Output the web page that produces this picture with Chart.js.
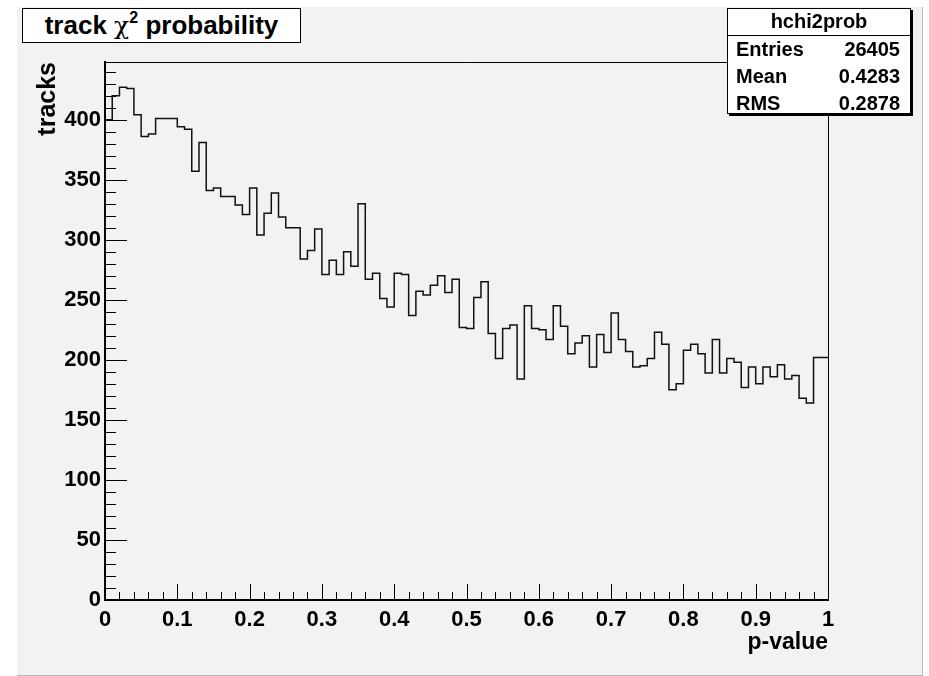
<!DOCTYPE html>
<html>
<head>
<meta charset="utf-8">
<script src="https://cdn.jsdelivr.net/npm/chart.js@4/dist/chart.umd.min.js"></script>
<style>
  html, body { margin: 0; padding: 0; background: #ffffff; }
  #wrap { position: relative; width: 929px; height: 676px; overflow: hidden; font-family: "Liberation Sans", Arial, Helvetica, sans-serif; }
  #pad { position: absolute; left: 17px; top: 7px; width: 905px; height: 668px; background: #f2f2f2; border-right: 1px solid #b8b8b8; border-bottom: 1px solid #b8b8b8; }
  #c { position: absolute; left: 0; top: 0; }
  #title { position: absolute; left: 22px; top: 8px; width: 279px; height: 35px; background: #fff; border: 1px solid #000; box-sizing: border-box;
           font-weight: bold; font-size: 26px; line-height: 33px; text-align: center; white-space: nowrap; color: #000; }
  #title .chi { font-family: "DejaVu Serif", "Liberation Serif", serif; font-weight: normal; font-style: normal; font-size: 25px; }
  #title sup { font-size: 16px; vertical-align: 0; position: relative; top: -11px; }
  #stats { position: absolute; left: 727px; top: 8px; width: 184px; height: 106px; background: #fff; border: 1px solid #000; box-sizing: border-box;
           box-shadow: 2px 2px 0 #000; color: #000; font-weight: bold; font-size: 20px; }
  #stats .hdr { position: absolute; left: 0; right: 0; top: 26px; border-top: 1px solid #000; }
  #stats .t { position: absolute; line-height: 20px; white-space: nowrap; }
</style>
</head>
<body>
<div id="wrap">
  <div id="pad"></div>
  <canvas id="c" width="929" height="676"></canvas>
  <div id="title"></div>
  <div id="stats"></div>
</div>
<script>
// ---- data (100 bins over [0,1]) ----
const histName = 'hchi2prob';
const binLowEdge = 0;
const binHighEdge = 1;
const histCounts = [
  280, 400, 420, 427, 426, 404, 386, 388, 401, 401,
  401, 394, 392, 357, 381, 341, 343, 336, 336, 329,
  321, 343, 304, 322, 339, 319, 310, 310, 284, 291,
  309, 271, 283, 271, 290, 278, 330, 267, 272, 251,
  244, 272, 271, 237, 257, 254, 262, 270, 256, 267,
  227, 226, 252, 265, 222, 201, 226, 229, 184, 245,
  226, 225, 217, 245, 228, 205, 214, 220, 194, 221,
  206, 239, 217, 207, 194, 195, 201, 223, 213, 175,
  180, 208, 213, 205, 189, 217, 189, 201, 198, 177,
  194, 180, 194, 186, 196, 184, 187, 168, 164, 202
];
const xTickLabels = ['0', '0.1', '0.2', '0.3', '0.4', '0.5', '0.6', '0.7', '0.8', '0.9', '1'];
const yTickLabels = ['0', '50', '100', '150', '200', '250', '300', '350', '400'];
const statsLabels = ['Entries', 'Mean', 'RMS'];
const statsValues = ['26405', '0.4283', '0.2878'];
const xTitle = 'p-value';
const yTitle = 'tracks';

// ---- build histogram outline points (bin edges) ----
const nBins = histCounts.length;
const binW = (binHighEdge - binLowEdge) / nBins;
const histPoints = histCounts.map((v, i) => ({ x: binLowEdge + i * binW, y: v }));
histPoints.push({ x: binHighEdge, y: histCounts[nBins - 1] });

// ---- HTML title and stats box (real text) ----
document.getElementById('title').innerHTML = 'track <span class="chi">\u03C7</span><sup>2</sup> probability';
(function () {
  const s = document.getElementById('stats');
  let h = '<div class="t" style="left:0;right:0;text-align:center;top:2px;font-weight:bold;">' + histName + '</div><div class="hdr"></div>';
  const tops = [30, 57, 84];
  statsLabels.forEach((l, i) => {
    h += '<div class="t" style="left:8px;top:' + tops[i] + 'px;">' + l + '</div>';
    h += '<div class="t" style="right:10px;top:' + tops[i] + 'px;">' + statsValues[i] + '</div>';
  });
  s.innerHTML = h;
})();

const FONT = '"Liberation Sans", Arial, Helvetica, sans-serif';
const labelFor = (list, v) => {
  const l = list.find(s => Math.abs(Number(s) - v) < 1e-6);
  return l === undefined ? '' : l;
};

// inward ROOT-style tick marks and frame, positioned through the chart's scales
const rootFrame = {
  id: 'rootFrame',
  afterDraw(chart) {
    const { ctx, chartArea: a, scales: { x, y } } = chart;
    ctx.save();
    ctx.strokeStyle = '#000';
    ctx.lineWidth = 1;
    ctx.beginPath();
    ctx.moveTo(a.left, a.top + 0.5); ctx.lineTo(a.right + 0.5, a.top + 0.5);
    ctx.moveTo(a.right + 0.5, a.top); ctx.lineTo(a.right + 0.5, a.bottom);
    // y ticks: major every 50, minor every 10
    for (let k = 0; k * 10 <= y.max; k++) {
      const v = k * 10;
      const p = Math.round(y.getPixelForValue(v)) + 0.5;
      const len = (v % 50 === 0) ? 22 : 11;
      ctx.moveTo(a.left, p); ctx.lineTo(a.left + len, p);
    }
    // x ticks: major every 0.1, minor every 0.02
    for (let k = 0; k <= 50; k++) {
      const v = k * 0.02;
      const p = Math.round(x.getPixelForValue(v)) + 0.5;
      const len = (k % 5 === 0) ? 16 : 8;
      ctx.moveTo(p, a.bottom); ctx.lineTo(p, a.bottom - len);
    }
    ctx.stroke();
    ctx.restore();
  }
};

new Chart(document.getElementById('c'), {
  type: 'line',
  data: {
    datasets: [{
      data: histPoints,
      stepped: 'after',
      borderColor: '#111',
      borderWidth: 1.5,
      pointRadius: 0,
      fill: false,
      tension: 0
    }]
  },
  options: {
    responsive: false,
    animation: false,
    devicePixelRatio: 1,
    layout: { padding: { top: 62, right: 101, left: 0, bottom: 0 } },
    plugins: { legend: { display: false }, tooltip: { enabled: false } },
    scales: {
      x: {
        type: 'linear',
        min: 0, max: 1,
        grid: { display: false, drawTicks: false },
        border: { display: true, color: '#000', width: 2 },
        ticks: {
          stepSize: 0.1,
          padding: 7,
          color: '#000',
          maxRotation: 0,
          autoSkip: false,
          font: { family: FONT, size: 22, weight: 'bold' },
          callback: (v) => labelFor(xTickLabels, v)
        },
        title: {
          display: true, text: xTitle, align: 'end', color: '#000',
          font: { family: FONT, size: 23, weight: 'bold' },
          padding: { top: 0, bottom: 20 }
        },
        afterFit: (s) => { s.height = 76; }
      },
      y: {
        type: 'linear',
        min: 0, max: 448,
        grid: { display: false, drawTicks: false },
        border: { display: true, color: '#000', width: 2 },
        afterBuildTicks: (s) => { s.ticks = yTickLabels.map(l => ({ value: Number(l) })); },
        ticks: {
          autoSkip: false,
          padding: 4,
          color: '#000',
          font: { family: FONT, size: 22, weight: 'bold' },
          callback: (v) => labelFor(yTickLabels, v)
        },
        title: {
          display: true, text: yTitle, align: 'end', color: '#000',
          font: { family: FONT, size: 25, weight: 'bold' },
          padding: { top: 33, bottom: 0 }
        },
        afterFit: (s) => { s.width = 105; }
      }
    }
  },
  plugins: [rootFrame]
});
</script>
</body>
</html>
